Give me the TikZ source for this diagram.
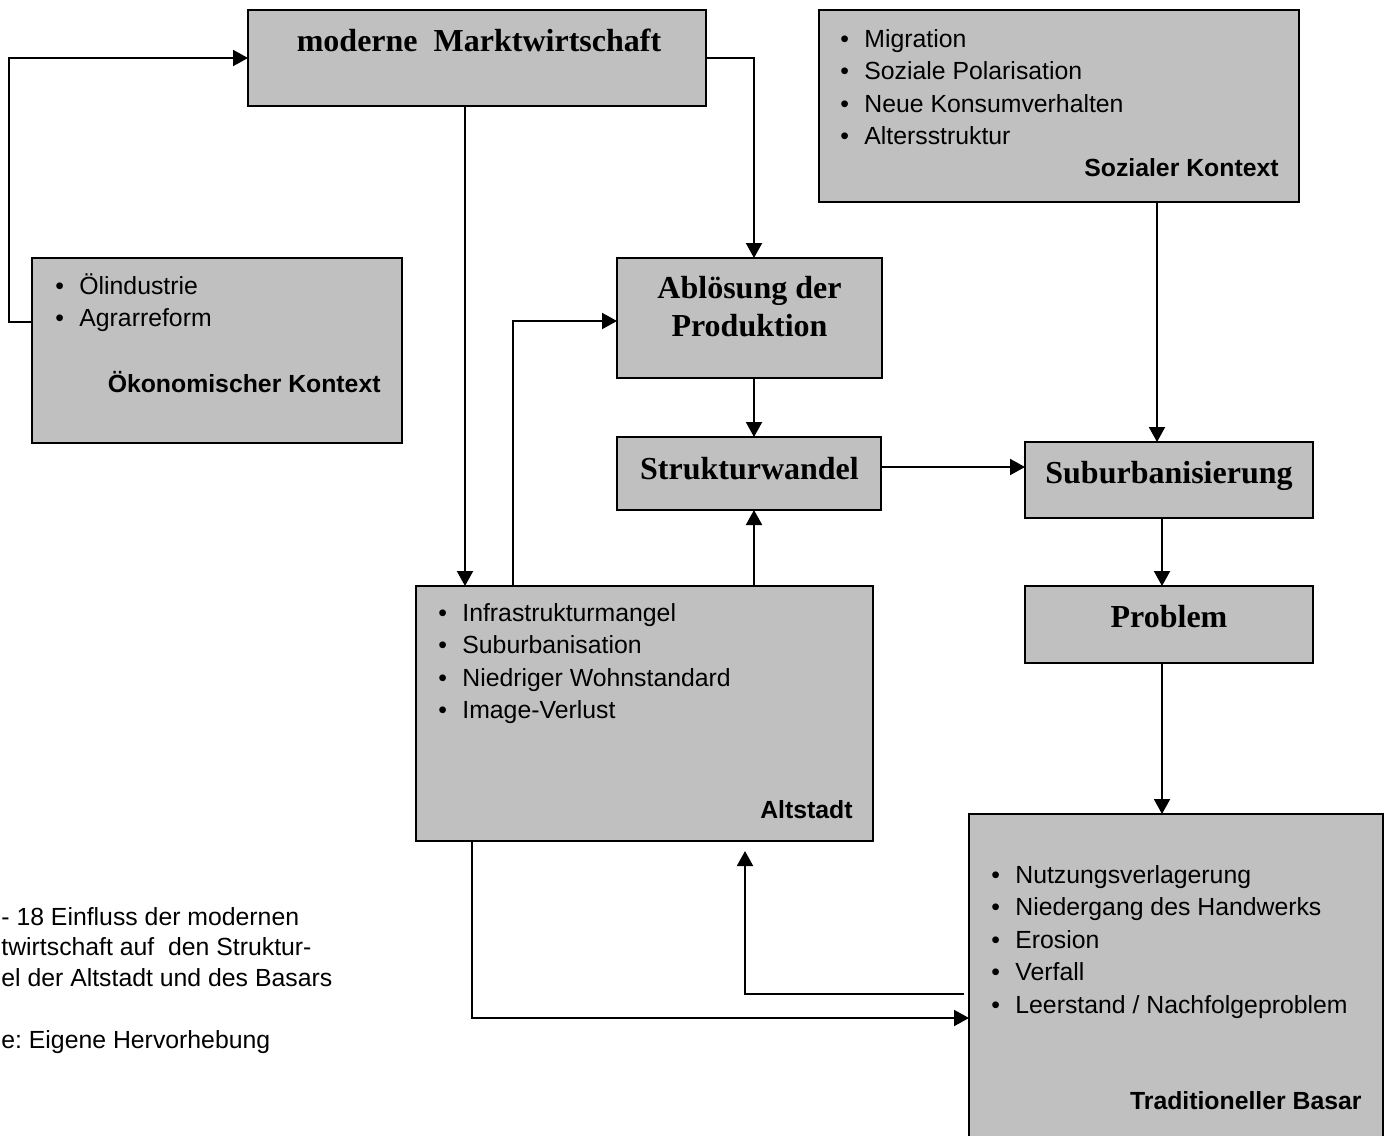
\documentclass[tikz,border=0pt]{standalone}
\usepackage{fontspec}
\setmainfont{Liberation Sans}
\newfontfamily\serifschrift{Liberation Serif}
\usetikzlibrary{arrows.meta}
\definecolor{kastengrau}{HTML}{C0C0C0}
\frenchspacing

\begin{document}
\begin{tikzpicture}[x=0.5pt, y=-0.5pt,
		kasten/.style={draw, line width=1.1pt, fill=kastengrau, inner sep=0pt, outer sep=0pt},
		titel/.style={inner sep=0pt, font=\serifschrift\bfseries\fontsize{16pt}{19pt}\selectfont},
		zeile/.style={anchor=base west, inner sep=0pt, font=\fontsize{12.4pt}{16.25pt}\selectfont},
		kontext/.style={anchor=base east, inner sep=0pt, font=\bfseries\fontsize{12.4pt}{16.25pt}\selectfont},
		pfeil/.style={line width=1pt, -{Triangle[length=7.5pt, width=8pt]}}]
		\useasboundingbox (0,0) rectangle (1390,1135);
		\clip (0,0) rectangle (1390,1135);
		\node[kasten, minimum width=229pt, minimum height=48pt] (markt) at (477,58) {};
		\node[kasten, minimum width=240pt, minimum height=96pt] (sozial) at (1059,106) {};
		\node[kasten, minimum width=185pt, minimum height=92.5pt] (oekon) at (217,350.5) {};
		\node[kasten, minimum width=132.5pt, minimum height=60pt] (abl) at (749.5,318) {};
		\node[kasten, minimum width=132pt, minimum height=36.5pt] (struk) at (749,473.5) {};
		\node[kasten, minimum width=144pt, minimum height=38pt] (subu) at (1169,480) {};
		\node[kasten, minimum width=144pt, minimum height=38.5pt] (probl) at (1169,624.5) {};
		\node[kasten, minimum width=228.5pt, minimum height=127.5pt] (alt) at (644.5,713.5) {};
		\node[kasten, minimum width=207pt, minimum height=165.5pt] (basar) at (1176,979.5) {};
		\node[titel, anchor=base] (marktname) at (479,51) {moderne\ \ Marktwirtschaft};
		\node[titel, align=center] (ablname) at (749.5,307) {Ablösung der\\Produktion};
		\node[titel, anchor=base] (strukname) at (749.5,479) {Strukturwandel};
		\node[titel, anchor=base] (subuname) at (1169,483) {Suburbanisierung};
		\node[titel, anchor=base] (problname) at (1169,627) {Problem};
		\foreach \eintrag [count=\i] in {Migration, Soziale Polarisation, Neue Konsumverhalten, Altersstruktur}
			\node[zeile] (sozial-\i) at (840,14.5+32.5*\i) {\makebox[12pt][l]{\textbullet}\eintrag};
		\node[kontext] (sozialname) at (1279,176) {Sozialer Kontext};
		\foreach \eintrag [count=\i] in {Ölindustrie, Agrarreform}
			\node[zeile] (oekon-\i) at (55,261.5+32.5*\i) {\makebox[12pt][l]{\textbullet}\eintrag};
		\node[kontext] (oekonname) at (381,392) {Ökonomischer Kontext};
		\foreach \eintrag [count=\i] in {Infrastrukturmangel, Suburbanisation, Niedriger Wohnstandard, Image-Verlust}
			\node[zeile] (alt-\i) at (438,588.5+32.5*\i) {\makebox[12pt][l]{\textbullet}\eintrag};
		\node[kontext] (altname) at (853,818) {Altstadt};
		\foreach \eintrag [count=\i] in {Nutzungsverlagerung, Niedergang des Handwerks, Erosion, Verfall, Leerstand / Nachfolgeproblem}
			\node[zeile] (basar-\i) at (991,850.5+32.5*\i) {\makebox[12pt][l]{\textbullet}\eintrag};
		\node[kontext] (basarname) at (1362,1109) {Traditioneller Basar};
		\node[zeile] (abb-1) at (1,925) {- 18 Einfluss der modernen};
		\node[zeile] (abb-2) at (1,955) {twirtschaft auf\ \ den Struktur-};
		\node[zeile] (abb-3) at (1,986) {el der Altstadt und des Basars};
		\node[zeile] (abb-4) at (1,1048) {e: Eigene Hervorhebung};
		\draw[pfeil] ([yshift=14.25pt]oekon.west) -- ++(-11.5pt,0) |- (markt.west);
		\draw[pfeil] (markt.east) -| ([xshift=2.25pt]abl.north);
		\draw[pfeil] ([xshift=-6pt]markt.south) -- ([xshift=-6pt]markt.south |- alt.north);
		\draw[pfeil] ([xshift=-65.75pt]alt.north) |- ([yshift=-1.5pt]abl.west);
		\draw[pfeil] ([xshift=2.25pt]abl.south) -- ([xshift=2.25pt]abl.south |- struk.north);
		\draw[pfeil] ([xshift=54.75pt]alt.north) -- ([xshift=54.75pt]alt.north |- struk.south);
		\draw[pfeil] ([yshift=3.25pt]struk.east) -- ([yshift=3.25pt]struk.east -| subu.west);
		\draw[pfeil] ([xshift=49pt]sozial.south) -- ([xshift=49pt]sozial.south |- subu.north);
		\draw[pfeil] ([xshift=-3.5pt]subu.south) -- ([xshift=-3.5pt]subu.south |- probl.north);
		\draw[pfeil] ([xshift=-3.5pt]probl.south) -- ([xshift=-3.5pt]probl.south |- basar.north);
		\draw[pfeil] ([xshift=-86.25pt]alt.south) |- ([yshift=-19.25pt]basar.west);
		\draw[pfeil] ([xshift=-2.5pt,yshift=-7.25pt]basar.west) -| ([xshift=50.25pt,yshift=-5pt]alt.south);
\end{tikzpicture}
\end{document}
